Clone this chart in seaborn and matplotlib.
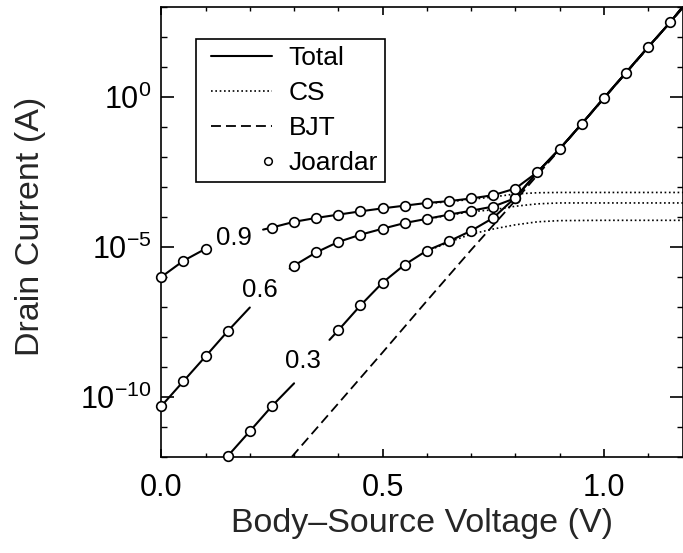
import numpy as np
import pandas as pd
import matplotlib
matplotlib.use("Agg")
import matplotlib.pyplot as plt
import seaborn as sns
from matplotlib import ticker
from matplotlib.lines import Line2D
from matplotlib.legend_handler import HandlerLine2D

nan = np.nan

# Total current (solid), log10 of drain current in A; nan = break for the curve label
tot_v_03 = [0.15, 0.20, 0.25, 0.30, nan, 0.38, 0.40, 0.45, 0.50, 0.55, 0.60, 0.65, 0.70, 0.75, 0.80]
tot_lg_03 = [-11.98, -11.15, -10.31, -9.55, nan, -8.10, -7.78, -6.95, -6.19, -5.59, -5.12, -4.81, -4.46, -4.03, -3.35]
tot_v_06 = [0.00, 0.05, 0.10, 0.15, 0.20, nan, 0.29, 0.30, 0.35, 0.40, 0.45, 0.50, 0.55, 0.60, 0.65, 0.70, 0.75, 0.80]
tot_lg_06 = [-10.31, -9.48, -8.65, -7.81, -7.02, nan, -5.72, -5.62, -5.18, -4.83, -4.59, -4.39, -4.20, -4.06, -3.92, -3.79, -3.65, -3.37]
tot_v_09 = [0.00, 0.05, 0.10, nan, 0.23, 0.25, 0.30, 0.35, 0.40, 0.45, 0.50, 0.55, 0.60, 0.65, 0.70, 0.75, 0.80]
tot_lg_09 = [-6.00, -5.46, -5.06, nan, -4.42, -4.35, -4.16, -4.03, -3.92, -3.81, -3.71, -3.62, -3.53, -3.47, -3.38, -3.27, -3.05]
# all three curves merge above 0.8 V
high_v = [0.85, 0.90, 0.95, 1.00, 1.05, 1.10, 1.15, 1.18]
high_lg = [-2.50, -1.73, -0.89, -0.03, 0.82, 1.67, 2.50, 3.05]

# Joardar model points (circles)
jo_v_03 = [0.15, 0.20, 0.25, 0.40, 0.45, 0.50, 0.55, 0.60, 0.65, 0.70, 0.75, 0.80]
jo_lg_03 = [-11.98, -11.15, -10.31, -7.78, -6.95, -6.19, -5.59, -5.12, -4.81, -4.46, -4.03, -3.35]
jo_v_06 = [0.00, 0.05, 0.10, 0.15, 0.30, 0.35, 0.40, 0.45, 0.50, 0.55, 0.60, 0.65, 0.70, 0.75, 0.80]
jo_lg_06 = [-10.31, -9.48, -8.65, -7.81, -5.62, -5.18, -4.83, -4.59, -4.39, -4.20, -4.06, -3.92, -3.79, -3.65, -3.37]
jo_v_09 = [0.00, 0.05, 0.10, 0.25, 0.30, 0.35, 0.40, 0.45, 0.50, 0.55, 0.60, 0.65, 0.70, 0.75, 0.80]
jo_lg_09 = [-6.00, -5.46, -5.06, -4.35, -4.16, -4.03, -3.92, -3.81, -3.71, -3.62, -3.53, -3.47, -3.38, -3.27, -3.05]
jo_v_high = [0.85, 0.90, 0.95, 1.00, 1.05, 1.10, 1.15]
jo_lg_high = [-2.50, -1.73, -0.89, -0.03, 0.82, 1.67, 2.50]

# channel (CS) component, dotted
cs_v = [0.60, 0.65, 0.70, 0.75, 0.80, 0.85, 0.90, 1.00, 1.10, 1.20]
cs_lg_03 = [-5.14, -4.84, -4.57, -4.40, -4.26, -4.16, -4.12, -4.11, -4.11, -4.11]
cs_lg_06 = [-4.07, -3.94, -3.82, -3.76, -3.64, -3.56, -3.53, -3.53, -3.53, -3.53]
cs_lg_09 = [-3.55, -3.49, -3.41, -3.33, -3.23, -3.19, -3.18, -3.18, -3.18, -3.18]

# parasitic BJT component, dashed
bjt_v = [0.295, 0.40, 0.50, 0.60, 0.70, 0.80, 0.90, 1.00, 1.10, 1.18]
bjt_lg = [-12.0, -10.22, -8.52, -6.80, -5.10, -3.45, -1.75, -0.05, 1.65, 3.0]

curve_labels = ["0.3", "0.6", "0.9"]
label_v = [0.32, 0.223, 0.165]
label_lg = [-8.81, -6.42, -4.70]


def segments(v, lg, name):
    rows, seg = [], 0
    for a, b in zip(v, lg):
        if np.isnan(a):
            seg += 1
            continue
        rows.append({"V": a, "I": 10.0 ** b, "seg": f"{name}-{seg}"})
    return rows


tot_rows = (segments(tot_v_03 + high_v, tot_lg_03 + high_lg, "0.3")
            + segments(tot_v_06 + high_v, tot_lg_06 + high_lg, "0.6")
            + segments(tot_v_09 + high_v, tot_lg_09 + high_lg, "0.9"))
tot_df = pd.DataFrame(tot_rows)

jo_df = pd.DataFrame({
    "V": jo_v_03 + jo_v_06 + jo_v_09 + jo_v_high,
    "I": 10.0 ** np.array(jo_lg_03 + jo_lg_06 + jo_lg_09 + jo_lg_high),
})

cs_df = pd.DataFrame({
    "V": cs_v * 3,
    "I": 10.0 ** np.array(cs_lg_03 + cs_lg_06 + cs_lg_09),
    "seg": ["0.3"] * len(cs_v) + ["0.6"] * len(cs_v) + ["0.9"] * len(cs_v),
})
bjt_df = pd.DataFrame({"V": bjt_v, "I": 10.0 ** np.array(bjt_lg)})

sns.set_theme(style="ticks")
plt.rcParams["font.family"] = ["Liberation Sans", "DejaVu Sans"]
plt.rcParams["mathtext.fontset"] = "custom"
plt.rcParams["mathtext.rm"] = "Liberation Sans"
plt.rcParams["mathtext.it"] = "Liberation Sans:italic"
plt.rcParams["mathtext.bf"] = "Liberation Sans:bold"
plt.rcParams["axes.edgecolor"] = "black"
plt.rcParams["axes.linewidth"] = 1.2
plt.rcParams["xtick.color"] = "black"
plt.rcParams["ytick.color"] = "black"
plt.rcParams["text.color"] = "black"

fig = plt.figure(figsize=(6.83, 5.53), dpi=100)
ax = fig.add_axes([0.2362, 0.1741, 0.7645, 0.8127])
ax.set_yscale("log")

sns.lineplot(data=cs_df, x="V", y="I", units="seg", estimator=None, sort=False,
             color="black", lw=1.2, linestyle=(0, (1, 1.6)), ax=ax)
sns.lineplot(data=bjt_df, x="V", y="I", estimator=None, sort=False,
             color="black", lw=1.3, linestyle=(0, (5.5, 2.8)), ax=ax)
sns.lineplot(data=tot_df, x="V", y="I", units="seg", estimator=None, sort=False,
             color="black", lw=1.5, ax=ax)
sns.scatterplot(data=jo_df, x="V", y="I", marker="o", s=48, color="white",
                edgecolor="black", linewidth=1.2, clip_on=False, zorder=5, ax=ax)

for lab, v, lg in zip(curve_labels, label_v, label_lg):
    ax.text(v, 10.0 ** lg, lab, fontsize=18.5, ha="center", va="center")

ax.set_xlim(0, 1.18)
ax.set_ylim(1e-12, 1e3)
ax.xaxis.set_major_locator(ticker.MultipleLocator(0.5))
ax.xaxis.set_minor_locator(ticker.MultipleLocator(0.1))
ax.xaxis.set_major_formatter(ticker.FormatStrFormatter("%.1f"))
ax.yaxis.set_major_locator(ticker.FixedLocator([1e-10, 1e-5, 1e0]))
ax.yaxis.set_major_formatter(ticker.FuncFormatter(
    lambda y, _: r"$10^{%d}$" % int(round(np.log10(y)))))
ax.yaxis.set_minor_locator(ticker.LogLocator(base=10, subs=(1.0,), numticks=40))
ax.yaxis.set_minor_formatter(ticker.NullFormatter())

ax.tick_params(axis="both", which="both", direction="in", top=True, right=True)
ax.tick_params(axis="y", which="major", length=9.5, width=1.2, labelsize=22, pad=7)
ax.tick_params(axis="y", which="minor", length=4, width=1.0)
ax.tick_params(axis="x", which="major", length=5.5, width=1.2, labelsize=22, pad=12)
ax.tick_params(axis="x", which="minor", length=3, width=1.0)

ax.set_xlabel("Body\u2013Source Voltage (V)", fontsize=24.5, labelpad=3)
ax.set_ylabel("Drain Current (A)", fontsize=24.5)
ax.yaxis.set_label_coords(-0.221, 0.512)


class PaddedLine(HandlerLine2D):
    # line starts a little in from the legend box edge
    def get_xdata(self, legend, xdescent, ydescent, width, height, fontsize):
        xd = np.array([-xdescent + 6.0, -xdescent + width])
        return xd, xd


class EndMarker(HandlerLine2D):
    # single marker sitting at the right end of the handle area
    def get_xdata(self, legend, xdescent, ydescent, width, height, fontsize):
        xm = -xdescent + width - 3.0
        xd = np.array([xm - 1.0, xm + 1.0])
        return xd, xd


h_tot = Line2D([], [], color="black", lw=1.5)
h_cs = Line2D([], [], color="black", lw=1.2, linestyle=(0, (1, 1.6)))
h_bjt = Line2D([], [], color="black", lw=1.3, linestyle=(0, (5.5, 2.8)))
h_jo = Line2D([], [], color="black", lw=0, marker="o", markersize=5.5,
              markerfacecolor="white", markeredgewidth=1.1)
line_handler = PaddedLine()
leg = ax.legend([h_tot, h_cs, h_bjt, h_jo], ["Total", "CS", "BJT", "Joardar"],
                loc="upper left", bbox_to_anchor=(0.066, 0.929), borderaxespad=0,
                fontsize=19, frameon=True, fancybox=False, edgecolor="black",
                framealpha=1, handlelength=2.65, handletextpad=0.62,
                labelspacing=0.42, borderpad=0.25, numpoints=1,
                handler_map={h_tot: line_handler, h_cs: line_handler,
                             h_bjt: line_handler, h_jo: EndMarker()})
leg.get_frame().set_linewidth(1.2)

fig.savefig("out.png", dpi=100)
